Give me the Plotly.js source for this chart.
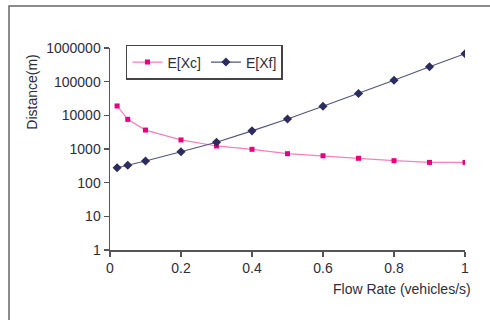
<!DOCTYPE html>
<html><head><meta charset="utf-8">
<script src="https://cdn.plot.ly/plotly-3.0.1.min.js"></script>
<style>html,body{margin:0;padding:0;background:#fff}#c{width:490px;height:320px}</style>
</head><body><div id="c"></div>
<script>
var flowRate = [0.02, 0.05, 0.1, 0.2, 0.3, 0.4, 0.5, 0.6, 0.7, 0.8, 0.9, 1.0];
var exc = [19000, 7600, 3650, 1860, 1230, 980, 725, 630, 530, 450, 400, 400];
var exf = [278, 330, 440, 830, 1590, 3460, 7760, 18600, 44700, 110000, 277000, 676000];
var yTicks = [1, 10, 100, 1000, 10000, 100000, 1000000];
var yTickText = ['1', '10', '100', '1000', '10000', '100000', '1000000'];
var xTicks = [0, 0.2, 0.4, 0.6, 0.8, 1];
var xTickText = ['0', '0.2', '0.4', '0.6', '0.8', '1'];
var xTitle = 'Flow Rate (vehicles/s)';
var yTitle = 'Distance(m)';

var txt = '#2e2e3a';
var traces = [
  {x: flowRate, y: exc, name: 'E[Xc]', mode: 'lines+markers', type: 'scatter',
   line: {color: '#f77fbf', width: 1.2},
   marker: {symbol: 'square', size: 5, color: '#e6007e'}},
  {x: flowRate, y: exf, name: 'E[Xf]', mode: 'lines+markers', type: 'scatter',
   line: {color: '#55557a', width: 1.2},
   marker: {symbol: 'diamond', size: 7, color: '#2c2c5e'}}
];
var layout = {
  width: 490, height: 320,
  margin: {l: 110, r: 25, t: 48, b: 70},
  paper_bgcolor: '#fff', plot_bgcolor: '#fff',
  font: {family: 'Liberation Sans, Arial, sans-serif', size: 14, color: txt},
  showlegend: true,
  legend: {orientation: 'h', x: 0.045, y: 1.015, xanchor: 'left', yanchor: 'top',
           bordercolor: '#444', borderwidth: 1.5, bgcolor: '#fff',
           font: {size: 14, color: txt}, itemwidth: 30, tracegroupgap: 0},
  xaxis: {range: [0, 1], tickvals: xTicks, ticktext: xTickText,
          showgrid: false, zeroline: false, showline: true, linecolor: '#555', linewidth: 1.5,
          ticks: 'outside', ticklen: 5, tickcolor: '#555', tickwidth: 1.5,
          tickfont: {size: 14, color: txt}},
  yaxis: {type: 'log', range: [0, 6], tickvals: yTicks, ticktext: yTickText,
          showgrid: false, zeroline: false, showline: true, linecolor: '#555', linewidth: 1.5,
          ticks: 'outside', ticklen: 5, tickcolor: '#555', tickwidth: 1.5,
          tickfont: {size: 14, color: txt}},
  annotations: [
    {text: xTitle, xref: 'paper', yref: 'paper', x: 1.022, y: -0.193,
     xanchor: 'right', yanchor: 'middle', showarrow: false, font: {size: 14, color: txt}},
    {text: yTitle, xref: 'paper', yref: 'paper', x: -0.219, y: 0.78,
     xanchor: 'center', yanchor: 'middle', textangle: -90, showarrow: false,
     font: {size: 14, color: txt}}
  ],
  shapes: [{type: 'rect', xref: 'paper', yref: 'paper',
            x0: -0.2845, x1: 1.09, y0: -0.38, y1: 1.208,
            line: {color: '#666', width: 1.5}, fillcolor: 'rgba(0,0,0,0)', layer: 'below'}]
};
Plotly.newPlot('c', traces, layout, {displayModeBar: false, staticPlot: true});
</script></body></html>
